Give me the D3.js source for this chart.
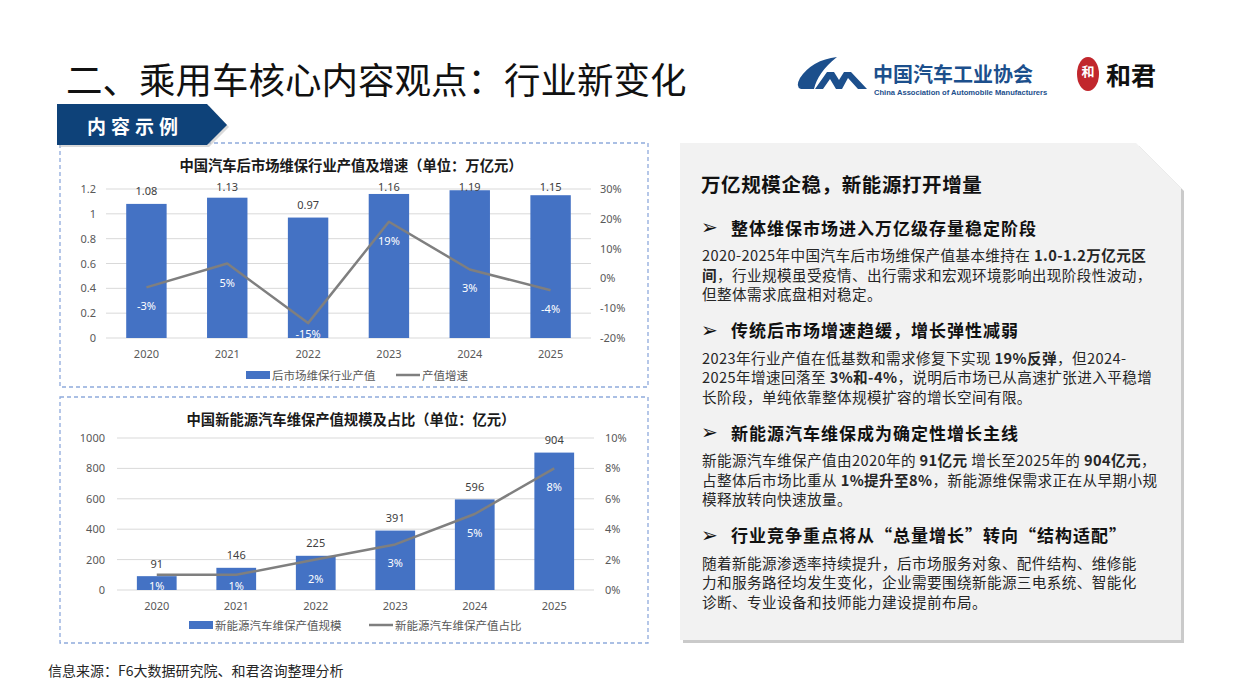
<!DOCTYPE html>
<html>
<head>
<meta charset="utf-8">
<script src="https://cdn.jsdelivr.net/npm/d3@7"></script>
<style>
  body { margin: 0; background: #fff; }
  svg { display: block; font-family: "Microsoft YaHei", "Noto Sans CJK SC", "Noto Sans", sans-serif; }
</style>
</head>
<body>
<script>
// Chart data
var years = ["2020", "2021", "2022", "2023", "2024", "2025"];

// top chart: after-market output (trillion yuan) and growth (%)
var marketValue = [1.08, 1.13, 0.97, 1.16, 1.19, 1.15];
var marketGrowth = [-3, 5, -15, 19, 3, -4];
var marketLeftTicks = [0, 0.2, 0.4, 0.6, 0.8, 1, 1.2];
var marketRightTicks = [-20, -10, 0, 10, 20, 30];

// bottom chart: NEV maintenance output (100m yuan) and share (%)
var nevValue = [91, 146, 225, 391, 596, 904];
var nevShare = [1, 1, 2, 3, 5, 8];
var nevLeftTicks = [0, 200, 400, 600, 800, 1000];
var nevRightTicks = [0, 2, 4, 6, 8, 10];

var svgWidth = 1240;
var svgHeight = 697;

var svg = d3.select("body")
  .append("svg")
  .attr("width", svgWidth)
  .attr("height", svgHeight);

var blue = "#4472c4";
var gray = "#7f7f7f";

// ---------- page header ----------
svg.append("text")
  .attr("x", 66)
  .attr("y", 78)
  .attr("dominant-baseline", "central")
  .attr("font-size", 36.5)
  .attr("fill", "#111")
  .text("二、乘用车核心内容观点：行业新变化");

// CAAM logo (simplified)
var logo = svg.append("g");
logo.append("path")
  .attr("d", "M801,89 L814,89 Q818,72 837,57 Q812,60 800,78 Q795,87 801,89 Z")
  .attr("fill", "#1c4f8c");
logo.append("path")
  .attr("d", "M815,89 L827,72 L834,72 L839,80 L844,72 L851,72 L867,89 L858,89 L848,78 L842,89 L836,89 L830,79 L823,89 Z")
  .attr("fill", "#1c4f8c");
logo.append("text")
  .attr("x", 873).attr("y", 73)
  .attr("dominant-baseline", "central")
  .attr("font-size", 20).attr("font-weight", "bold")
  .attr("fill", "#1c4f8c")
  .text("中国汽车工业协会");
logo.append("text")
  .attr("x", 874).attr("y", 92)
  .attr("dominant-baseline", "central")
  .attr("font-size", 7.6).attr("font-weight", "bold")
  .attr("font-family", "Arial, 'Liberation Sans', sans-serif")
  .attr("fill", "#1c4f8c")
  .text("China Association of Automobile Manufacturers");

// He Jun logo (simplified)
svg.append("ellipse")
  .attr("cx", 1088).attr("cy", 74).attr("rx", 11).attr("ry", 17)
  .attr("fill", "#c1272d");
svg.append("text")
  .attr("x", 1088).attr("y", 70)
  .attr("text-anchor", "middle").attr("dominant-baseline", "central")
  .attr("font-size", 13).attr("font-weight", "bold").attr("fill", "#fff")
  .text("和");
svg.append("text")
  .attr("x", 1106).attr("y", 74)
  .attr("dominant-baseline", "central")
  .attr("font-size", 25).attr("font-weight", "bold").attr("fill", "#111")
  .text("和君");

// ---------- chart boxes ----------
svg.append("rect")
  .attr("x", 60).attr("y", 143).attr("width", 588).attr("height", 244)
  .attr("fill", "none").attr("stroke", "#8faadc").attr("stroke-width", 1.3)
  .attr("stroke-dasharray", "4,3");
svg.append("rect")
  .attr("x", 60).attr("y", 397).attr("width", 588).attr("height", 246)
  .attr("fill", "none").attr("stroke", "#8faadc").attr("stroke-width", 1.3)
  .attr("stroke-dasharray", "4,3");

// banner "内容示例"
svg.append("path")
  .attr("d", "M59,106 L209,106 L229,127 L209,147 L59,147 Z")
  .attr("fill", "#bfbfbf").attr("opacity", 0.6);
svg.append("path")
  .attr("d", "M57,104 L207,104 L227,125 L207,145 L57,145 Z")
  .attr("fill", "#0e4279");
svg.append("text")
  .attr("x", 87).attr("y", 125)
  .attr("dominant-baseline", "central")
  .attr("font-size", 19).attr("font-weight", "bold")
  .attr("letter-spacing", 5)
  .attr("fill", "#fff")
  .text("内容示例");

// ---------- combo chart ----------
function drawCombo(o) {
  var g = svg.append("g");

  var x = d3.scaleBand()
    .domain(years)
    .range([o.left, o.right])
    .paddingInner(0.5)
    .paddingOuter(0.25);

  var yL = d3.scaleLinear().domain(d3.extent(o.leftTicks)).range([o.bottom, o.top]);
  var yR = d3.scaleLinear().domain(d3.extent(o.rightTicks)).range([o.bottom, o.top]);

  // title
  g.append("text")
    .attr("x", o.titleX)
    .attr("y", o.titleY)
    .attr("text-anchor", "middle")
    .attr("dominant-baseline", "central")
    .attr("font-size", 14.3).attr("font-weight", "bold")
    .attr("fill", "#1a1a1a")
    .text(o.title);

  // gridlines
  g.append("g").selectAll("line")
    .data(o.leftTicks)
    .enter()
    .append("line")
    .attr("x1", o.left).attr("x2", o.right)
    .attr("y1", d => yL(d)).attr("y2", d => yL(d))
    .attr("stroke", "#d9d9d9").attr("stroke-width", 1);

  // axes
  var leftAxis = d3.axisLeft(yL).tickValues(o.leftTicks).tickSize(0).tickPadding(o.padL)
    .tickFormat(d => String(d));
  var rightAxis = d3.axisRight(yR).tickValues(o.rightTicks).tickSize(0).tickPadding(o.padR)
    .tickFormat(d => d + "%");
  var bottomAxis = d3.axisBottom(x).tickSize(0).tickPadding(12);

  [
    g.append("g").attr("transform", `translate(${o.left},0)`).call(leftAxis),
    g.append("g").attr("transform", `translate(${o.right},0)`).call(rightAxis),
    g.append("g").attr("transform", `translate(0,${o.bottom})`).call(bottomAxis)
  ].forEach(function(ax) {
    ax.select(".domain").remove();
    ax.selectAll("text")
      .attr("font-size", 11)
      .attr("font-family", "'Noto Sans', 'Open Sans', sans-serif")
      .attr("fill", "#595959");
  });

  // bars
  g.append("g").selectAll("rect")
    .data(o.bars)
    .enter()
    .append("rect")
    .attr("x", (d, i) => x(years[i]))
    .attr("width", x.bandwidth())
    .attr("y", d => yL(d))
    .attr("height", d => o.bottom - yL(d))
    .attr("fill", blue);

  // bar value labels
  g.append("g").selectAll("text")
    .data(o.bars)
    .enter()
    .append("text")
    .attr("x", (d, i) => x(years[i]) + x.bandwidth() / 2)
    .attr("y", d => Math.max(yL(d) - 13, o.top - 3))
    .attr("text-anchor", "middle")
    .attr("dominant-baseline", "central")
    .attr("font-size", 11)
    .attr("font-family", "'Noto Sans', 'Open Sans', sans-serif")
    .attr("fill", "#404040")
    .text(d => d);

  // line
  var line = d3.line()
    .x((d, i) => x(years[i]) + x.bandwidth() / 2)
    .y(d => yR(d));

  g.append("path")
    .datum(o.line)
    .attr("d", line)
    .attr("fill", "none")
    .attr("stroke", gray)
    .attr("stroke-width", 2.5)
    .attr("stroke-linejoin", "round");

  // line labels (white, below point)
  g.append("g").selectAll("text")
    .data(o.line)
    .enter()
    .append("text")
    .attr("x", (d, i) => x(years[i]) + x.bandwidth() / 2)
    .attr("y", d => Math.min(yR(d) + 18.5, o.bottom - 5))
    .attr("text-anchor", "middle")
    .attr("dominant-baseline", "central")
    .attr("font-size", 11)
    .attr("font-family", "'Noto Sans', 'Open Sans', sans-serif")
    .attr("fill", "#fff")
    .text(d => d + "%");

  // legend
  var lg = g.append("g");
  lg.append("rect")
    .attr("x", o.legendX).attr("y", o.legendY - 4)
    .attr("width", 24).attr("height", 8)
    .attr("fill", blue);
  lg.append("text")
    .attr("x", o.legendX + 26).attr("y", o.legendY)
    .attr("dominant-baseline", "central")
    .attr("font-size", 11.5).attr("fill", "#595959")
    .text(o.barName);
  lg.append("line")
    .attr("x1", o.legendX2).attr("x2", o.legendX2 + 24)
    .attr("y1", o.legendY).attr("y2", o.legendY)
    .attr("stroke", gray).attr("stroke-width", 2.5);
  lg.append("text")
    .attr("x", o.legendX2 + 26).attr("y", o.legendY)
    .attr("dominant-baseline", "central")
    .attr("font-size", 11.5).attr("fill", "#595959")
    .text(o.lineName);
}

drawCombo({
  left: 106, right: 591, top: 189, bottom: 338,
  padL: 10, padR: 9,
  leftTicks: marketLeftTicks, rightTicks: marketRightTicks,
  bars: marketValue, line: marketGrowth,
  title: "中国汽车后市场维保行业产值及增速（单位：万亿元）", titleX: 351, titleY: 164,
  barName: "后市场维保行业产值", lineName: "产值增速",
  legendX: 246, legendX2: 396, legendY: 375
});

drawCombo({
  left: 117, right: 594, top: 438, bottom: 590,
  padL: 12, padR: 11,
  leftTicks: nevLeftTicks, rightTicks: nevRightTicks,
  bars: nevValue, line: nevShare,
  title: "中国新能源汽车维保产值规模及占比（单位：亿元）", titleX: 351, titleY: 418,
  barName: "新能源汽车维保产值规模", lineName: "新能源汽车维保产值占比",
  legendX: 189, legendX2: 369, legendY: 625
});

// ---------- right text panel ----------
var panelPath = "M680,143 L1136,143 L1181,188 L1181,640 L680,640 Z";
svg.append("path")
  .attr("d", panelPath)
  .attr("transform", "translate(3,3)")
  .attr("fill", "#bdbdbd")
  .attr("opacity", 0.8);
svg.append("path")
  .attr("d", panelPath)
  .attr("fill", "#f2f2f2");

var panelHeading = "万亿规模企稳，新能源打开增量";

var sectionTitles = [
  "整体维保市场进入万亿级存量稳定阶段",
  "传统后市场增速趋缓，增长弹性减弱",
  "新能源汽车维保成为确定性增长主线",
  "行业竞争重点将从“总量增长”转向“结构适配”"
];

// each body line is a list of [text, bold]
var sectionBodies = [
  [
    [["2020-2025年中国汽车后市场维保产值基本维持在 ", 0], ["1.0-1.2万亿元区", 1]],
    [["间", 1], ["，行业规模虽受疫情、出行需求和宏观环境影响出现阶段性波动，", 0]],
    [["但整体需求底盘相对稳定。", 0]]
  ],
  [
    [["2023年行业产值在低基数和需求修复下实现 ", 0], ["19%反弹", 1], ["，但2024-", 0]],
    [["2025年增速回落至 ", 0], ["3%和-4%", 1], ["，说明后市场已从高速扩张进入平稳增", 0]],
    [["长阶段，单纯依靠整体规模扩容的增长空间有限。", 0]]
  ],
  [
    [["新能源汽车维保产值由2020年的 ", 0], ["91亿元", 1], [" 增长至2025年的 ", 0], ["904亿元", 1], ["，", 0]],
    [["占整体后市场比重从 ", 0], ["1%提升至8%", 1], ["，新能源维保需求正在从早期小规", 0]],
    [["模释放转向快速放量。", 0]]
  ],
  [
    [["随着新能源渗透率持续提升，后市场服务对象、配件结构、维修能", 0]],
    [["力和服务路径均发生变化，企业需要围绕新能源三电系统、智能化", 0]],
    [["诊断、专业设备和技师能力建设提前布局。", 0]]
  ]
];

svg.append("text")
  .attr("x", 701).attr("y", 183)
  .attr("dominant-baseline", "central")
  .attr("font-size", 19.5).attr("font-weight", "bold")
  .attr("letter-spacing", 0.6)
  .attr("fill", "#111")
  .text(panelHeading);

var yPos = 227;
sectionTitles.forEach(function(title, s) {
  svg.append("text")
    .attr("x", 701).attr("y", yPos)
    .attr("dominant-baseline", "central")
    .attr("font-size", 20)
    .attr("font-family", "'DejaVu Sans', sans-serif")
    .attr("fill", "#111")
    .text("➢");
  svg.append("text")
    .attr("x", 731).attr("y", yPos)
    .attr("dominant-baseline", "central")
    .attr("font-size", 17).attr("font-weight", "bold")
    .attr("letter-spacing", 1)
    .attr("fill", "#111")
    .text(title);

  yPos += 27;
  sectionBodies[s].forEach(function(parts) {
    var t = svg.append("text")
      .attr("x", 702).attr("y", yPos)
      .attr("dominant-baseline", "central")
      .attr("font-size", 14.6)
      .attr("letter-spacing", 0.4)
      .attr("fill", "#262626");
    parts.forEach(function(p) {
      t.append("tspan")
        .attr("font-weight", p[1] ? "bold" : "normal")
        .text(p[0]);
    });
    yPos += 19.5;
  });
  yPos += 17;
});

// source
svg.append("text")
  .attr("x", 48).attr("y", 670)
  .attr("dominant-baseline", "central")
  .attr("font-size", 14)
  .attr("fill", "#262626")
  .text("信息来源：F6大数据研究院、和君咨询整理分析");
</script>
</body>
</html>
